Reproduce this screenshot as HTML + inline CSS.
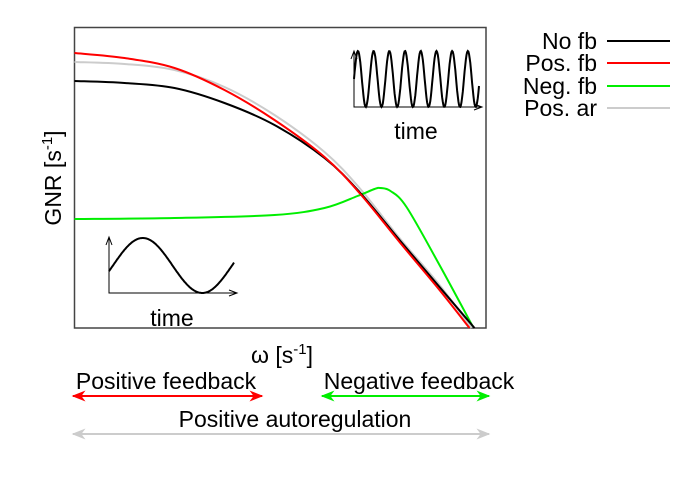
<!DOCTYPE html>
<html><head><meta charset="utf-8"><style>
body{margin:0;background:#fff;}
svg{display:block;font-family:"Liberation Sans",sans-serif;}
</style></head><body>
<svg id="chart" width="700" height="490" viewBox="0 0 700 490">
<rect x="74.5" y="27.5" width="411.5" height="300.5" fill="none" stroke="#444" stroke-width="1.5"/>
<g id="series"></g>
<g id="insets"></g>
<text x="282" y="363" font-size="23" text-anchor="middle">ω [s<tspan dy="-9" font-size="15">-1</tspan><tspan dy="9">]</tspan></text>
<text transform="translate(61,178) rotate(-90)" font-size="23" text-anchor="middle">GNR [s<tspan dy="-9" font-size="15">-1</tspan><tspan dy="9">]</tspan></text>
<g>
<g><text x="597" y="49" font-size="23" text-anchor="end">No fb</text><line x1="607" y1="41" x2="670" y2="41" stroke="#000" stroke-width="2"/></g>
<g><text x="597" y="71" font-size="23" text-anchor="end">Pos. fb</text><line x1="607" y1="63" x2="670" y2="63" stroke="#f00" stroke-width="2"/></g>
<g><text x="597" y="94" font-size="23" text-anchor="end">Neg. fb</text><line x1="607" y1="86" x2="670" y2="86" stroke="#0e0" stroke-width="2"/></g>
<g><text x="597" y="116" font-size="23" text-anchor="end">Pos. ar</text><line x1="607" y1="108" x2="670" y2="108" stroke="#ccc" stroke-width="2"/></g>
</g>
<defs>
<marker id="ar-r" viewBox="0 0 10 10" refX="9" refY="5" markerWidth="7" markerHeight="7" orient="auto-start-reverse"><path d="M0,1 L10,5 L0,9 L3,5z" fill="#f00"/></marker>
<marker id="ar-g" viewBox="0 0 10 10" refX="9" refY="5" markerWidth="7" markerHeight="7" orient="auto-start-reverse"><path d="M0,1 L10,5 L0,9 L3,5z" fill="#0e0"/></marker>
<marker id="ar-k" viewBox="0 0 10 10" refX="9" refY="5" markerWidth="7" markerHeight="7" orient="auto-start-reverse"><path d="M0,1 L10,5 L0,9 L3,5z" fill="#ccc"/></marker>
</defs>
<text x="166" y="389" font-size="23" text-anchor="middle">Positive feedback</text>
<line x1="73" y1="396" x2="262" y2="396" stroke="#f00" stroke-width="2" marker-start="url(#ar-r)" marker-end="url(#ar-r)"/>
<text x="419" y="389" font-size="23" text-anchor="middle">Negative feedback</text>
<line x1="322" y1="396" x2="489" y2="396" stroke="#0e0" stroke-width="2" marker-start="url(#ar-g)" marker-end="url(#ar-g)"/>
<text x="295" y="427" font-size="23" text-anchor="middle">Positive autoregulation</text>
<line x1="73" y1="434" x2="489" y2="434" stroke="#ccc" stroke-width="2" marker-start="url(#ar-k)" marker-end="url(#ar-k)"/>
</svg>
<script>
const noFbX = [0,50,100,150,200,250,285,325,365,400];
const noFbY = [247,245,240,225,203,170,136,88,41,0];
const posFbX = [0,50,100,150,200,250,285,325,365,395];
const posFbY = [275,270,260,238,208,171,135,86,38,0];
const posArX = [0,50,100,150,200,250,285,325,365,397];
const posArY = [266,264,258,241,213,176,140,90,43,0];
const negFbX = [0,100,200,250,283,300,306,316,332,365,398];
const negFbY = [109,110,113,120,132,139,140,137,121,63,2];
const xScale = v => 74.5 + v;
const yScale = v => 328 - v;
const NS = "http://www.w3.org/2000/svg";
function smoothPath(xs, ys){
  const p = xs.map((x,i)=>[xScale(x), yScale(ys[i])]);
  let d = "M"+p[0][0]+","+p[0][1];
  for(let i=0;i<p.length-1;i++){
    const p0=p[i-1]||p[i], p1=p[i], p2=p[i+1], p3=p[i+2]||p2;
    const c1=[p1[0]+(p2[0]-p0[0])/6, p1[1]+(p2[1]-p0[1])/6];
    const c2=[p2[0]-(p3[0]-p1[0])/6, p2[1]-(p3[1]-p1[1])/6];
    d+=" C"+c1+" "+c2+" "+p2;
  }
  return d;
}
const g = document.getElementById("series");
function addSeries(xs, ys, color, name){
  const el = document.createElementNS(NS,"path");
  el.setAttribute("d", smoothPath(xs, ys));
  el.setAttribute("fill","none");
  el.setAttribute("stroke",color);
  el.setAttribute("stroke-width","2");
  
  
  g.appendChild(el);
}
addSeries(posArX, posArY, "#ccc", "pos-ar-line");
addSeries(negFbX, negFbY, "#0e0", "neg-fb-line");
addSeries(noFbX, noFbY, "#000", "no-fb-line");
addSeries(posFbX, posFbY, "#f00", "pos-fb-line");

const ins = document.getElementById("insets");
function inset(x0,y0,w,h,periods,phase,amp,mid,name,lx,ly){
  const grp = document.createElementNS(NS,"g");
  
  
  let ax = document.createElementNS(NS,"path");
  ax.setAttribute("d",`M${x0},${y0-h} L${x0},${y0} L${x0+w+3},${y0} M${x0+w-5},${y0-3} L${x0+w+3},${y0} L${x0+w-5},${y0+3} M${x0-3},${y0-h+8} L${x0},${y0-h} L${x0+3},${y0-h+8}`);
  ax.setAttribute("fill","none");ax.setAttribute("stroke","#000");ax.setAttribute("stroke-width","1");
  grp.appendChild(ax);
  let d="";
  for(let i=0;i<=200;i++){
    const t=i/200, x=x0+t*w, y=mid-amp*Math.sin(2*Math.PI*periods*t+phase);
    d+=(i?"L":"M")+x.toFixed(1)+","+y.toFixed(1);
  }
  const s=document.createElementNS(NS,"path");
  s.setAttribute("d",d);s.setAttribute("fill","none");s.setAttribute("stroke","#000");s.setAttribute("stroke-width","2");
  grp.appendChild(s);
  const tx=document.createElementNS(NS,"text");
  tx.setAttribute("x",lx);tx.setAttribute("y",ly);tx.setAttribute("font-size","23");tx.setAttribute("text-anchor","middle");
  tx.textContent="time";
  grp.appendChild(tx);
  ins.appendChild(grp);
}
inset(354,107,125,56,7.96,0,28,79,"fast-oscillation-inset",416,139);
inset(109,293,125,56,1.05,-0.21,27.5,265.5,"slow-oscillation-inset",172,326);
</script>
</body></html>
